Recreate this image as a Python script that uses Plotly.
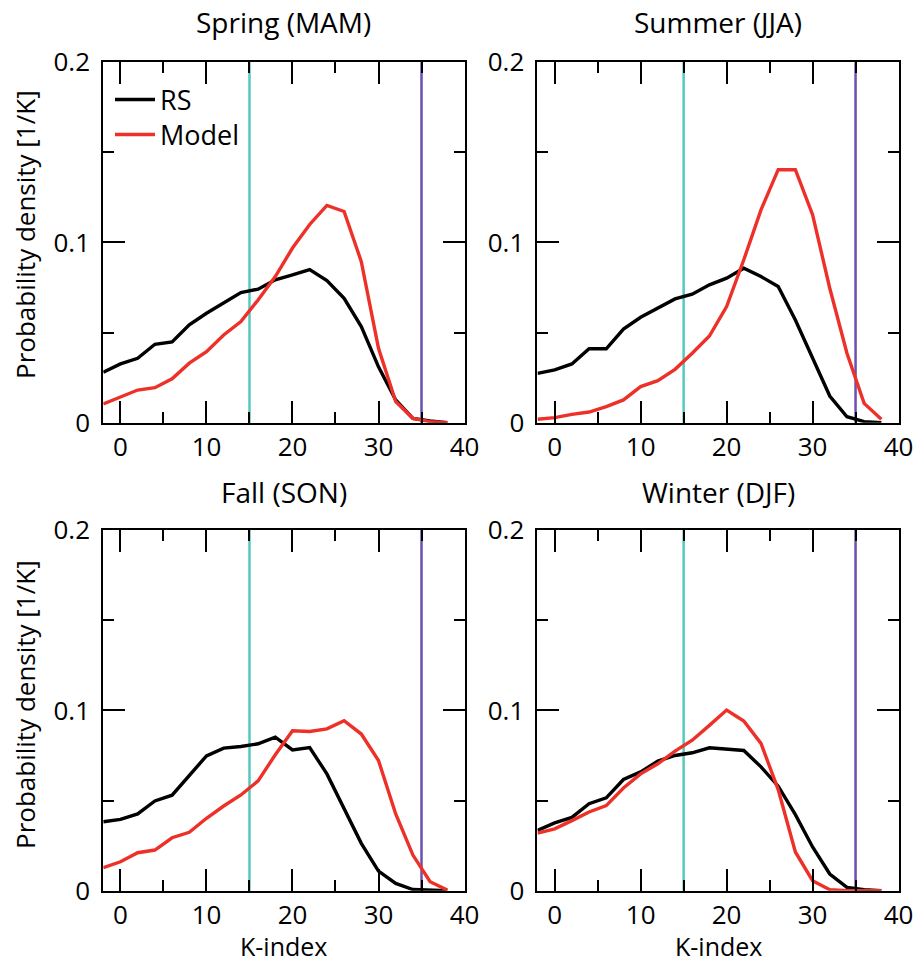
import plotly.graph_objects as go

# ---------------- data ----------------
k_index = [-2, 0, 2, 4, 6, 8, 10, 12, 14, 16, 18, 20, 22, 24, 26, 28, 30, 32, 34, 36, 38]

seasons = ["Spring (MAM)", "Summer (JJA)", "Fall (SON)", "Winter (DJF)"]

rs_spring = [0.0280, 0.0326, 0.0357, 0.0435, 0.0448, 0.0543, 0.0607, 0.0663, 0.0722, 0.0741,
             0.0793, 0.0820, 0.0850, 0.0789, 0.0690, 0.0533, 0.0310, 0.0126, 0.0024, 0.0010, 0.0000]
model_spring = [0.0104, 0.0144, 0.0181, 0.0194, 0.0243, 0.0330, 0.0394, 0.0487, 0.0561, 0.0681,
                0.0811, 0.0969, 0.1100, 0.1206, 0.1172, 0.0894, 0.0413, 0.0117, 0.0024, 0.0006, 0.0000]

rs_summer = [0.0274, 0.0293, 0.0326, 0.0410, 0.0410, 0.0519, 0.0585, 0.0635, 0.0687, 0.0713,
             0.0765, 0.0802, 0.0857, 0.0811, 0.0756, 0.0570, 0.0357, 0.0148, 0.0033, 0.0006, 0.0000]
model_summer = [0.0019, 0.0028, 0.0046, 0.0059, 0.0089, 0.0126, 0.0200, 0.0233, 0.0296, 0.0385,
                0.0481, 0.0644, 0.0904, 0.1181, 0.1404, 0.1404, 0.1154, 0.0746, 0.0385, 0.0107, 0.0019]

rs_fall = [0.0383, 0.0396, 0.0426, 0.0498, 0.0530, 0.0637, 0.0748, 0.0791, 0.0800, 0.0815,
           0.0852, 0.0781, 0.0794, 0.0648, 0.0457, 0.0263, 0.0109, 0.0041, 0.0007, 0.0004, 0.0000]
model_fall = [0.0128, 0.0161, 0.0211, 0.0226, 0.0294, 0.0324, 0.0402, 0.0470, 0.0531, 0.0609,
              0.0754, 0.0887, 0.0883, 0.0898, 0.0943, 0.0869, 0.0722, 0.0426, 0.0198, 0.0050, 0.0004]

rs_winter = [0.0335, 0.0376, 0.0407, 0.0483, 0.0515, 0.0617, 0.0659, 0.0719, 0.0750, 0.0765,
             0.0793, 0.0787, 0.0778, 0.0687, 0.0580, 0.0422, 0.0243, 0.0093, 0.0019, 0.0006, 0.0000]
model_winter = [0.0320, 0.0343, 0.0389, 0.0437, 0.0472, 0.0570, 0.0648, 0.0704, 0.0774, 0.0835,
                0.0917, 0.1002, 0.0941, 0.0817, 0.0561, 0.0215, 0.0056, 0.0006, 0.0000, 0.0000, 0.0000]

rs_series = [rs_spring, rs_summer, rs_fall, rs_winter]
model_series = [model_spring, model_summer, model_fall, model_winter]

thresholds = [15, 35]
threshold_colors = ["#55C8C0", "#6B50AE"]

series_names = ["RS", "Model"]
series_colors = ["#000000", "#EE3128"]

x_title = "K-index"
y_title = "Probability density [1/K]"

# ---------------- layout geometry ----------------
W, H = 918, 963
FONT = "Open Sans"
FS_TICK = 26
FS_TITLE = 28
FS_YTITLE = 26
FS_LEGEND = 27
FS_XTITLE = 25

x_domains = [[0.1125, 0.5060], [0.5855, 0.9788]]
y_domains = [[0.5611, 0.9353], [0.0750, 0.4496]]
legend_ids = ["legend", "legend2"]
legend_rows_px = [100, 135]

fig = go.Figure()

for i in range(4):
    row, col = divmod(i, 2)
    ax = "" if i == 0 else str(i + 1)
    xref, yref = "x" + ax, "y" + ax
    for j, (name, color, data) in enumerate(zip(series_names, series_colors, [rs_series[i], model_series[i]])):
        fig.add_trace(go.Scatter(
            x=k_index, y=data, mode="lines", name=name,
            line=dict(color=color, width=3.4),
            xaxis=xref, yaxis=yref, showlegend=(i == 0), legend=legend_ids[j],
        ))
    for t, c in zip(thresholds, threshold_colors):
        fig.add_shape(type="line", xref=xref, yref=yref + " domain",
                      x0=t, x1=t, y0=0, y1=1, line=dict(color=c, width=2.5), layer="below")

    common = dict(
        showline=True, linecolor="black", linewidth=2, mirror="ticks",
        ticks="inside", tickcolor="black", tickwidth=2, ticklen=22,
        showgrid=False, zeroline=False, automargin=False,
        tickfont=dict(family=FONT, size=FS_TICK, color="black"),
    )
    fig.layout["xaxis" + ax] = dict(
        domain=x_domains[col], range=[-2, 40], tick0=0, dtick=10,
        anchor=yref, ticklabelstandoff=0,
        minor=dict(ticks="inside", dtick=5, tick0=0, ticklen=11, tickwidth=2, tickcolor="black", showgrid=False),
        **common,
    )
    fig.layout["yaxis" + ax] = dict(
        domain=y_domains[row], range=[0, 0.2], tick0=0, dtick=0.1,
        anchor=xref, ticklabelstandoff=6,
        minor=dict(ticks="inside", dtick=0.05, tick0=0, ticklen=11, tickwidth=2, tickcolor="black", showgrid=False),
        **common,
    )
    # subplot title
    title_y = [22, 492][row]
    fig.add_annotation(text=seasons[i], xref="paper", yref="paper",
                       x=sum(x_domains[col]) / 2, y=1 - title_y / H,
                       showarrow=False, font=dict(family=FONT, size=FS_TITLE, color="black"),
                       xanchor="center", yanchor="middle")
    if col == 0:
        ty = [235, 705][row]
        fig.add_annotation(text=y_title, xref="paper", yref="paper",
                           x=25 / W, y=1 - ty / H, textangle=-90,
                           showarrow=False, font=dict(family=FONT, size=FS_YTITLE, color="black"),
                           xanchor="center", yanchor="middle")
    if row == 1:
        fig.add_annotation(text=x_title, xref="paper", yref="paper",
                           x=sum(x_domains[col]) / 2, y=1 - 946 / H,
                           showarrow=False, font=dict(family=FONT, size=FS_XTITLE, color="black"),
                           xanchor="center", yanchor="middle")

legend_common = dict(xanchor="left", yanchor="middle", bgcolor="rgba(0,0,0,0)",
                     font=dict(family=FONT, size=FS_LEGEND, color="black"),
                     tracegroupgap=0, itemwidth=40)

fig.update_layout(
    width=W, height=H,
    margin=dict(l=0, r=0, t=0, b=0),
    paper_bgcolor="white", plot_bgcolor="white",
    showlegend=True,
    legend=dict(x=110 / W, y=1 - legend_rows_px[0] / H, **legend_common),
    legend2=dict(x=110 / W, y=1 - legend_rows_px[1] / H, **legend_common),
)

fig.write_html("out.html")
